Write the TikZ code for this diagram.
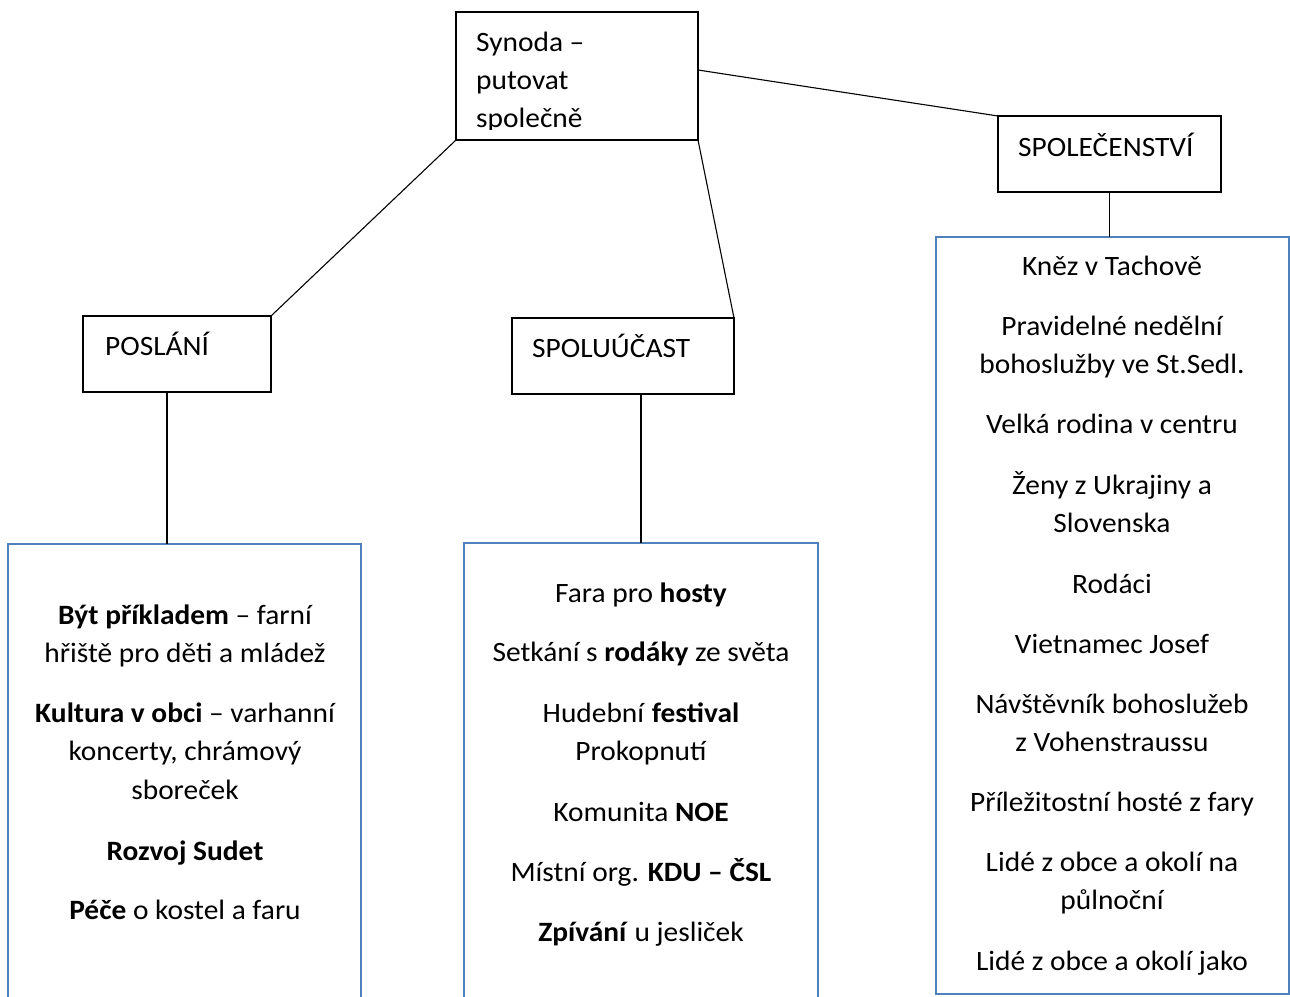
\documentclass[tikz,border=0pt]{standalone}
\usepackage{fontspec}
\setmainfont{Carlito}[FakeStretch=1.05]
\definecolor{boxblue}{RGB}{79,129,189}
\begin{document}
\begin{tikzpicture}[x=1pt,y=-1pt,
  smallbox/.style={draw=black, line width=1.2pt, rectangle, inner sep=0pt, outer sep=0pt, anchor=north west},
  bigbox/.style={draw=boxblue, line width=2pt, rectangle, inner sep=0pt, outer sep=0pt, anchor=north west},
  conn/.style={draw=black, line width=1.1pt},
  txt/.style={font=\fontsize{28}{33}\selectfont, inner sep=0pt, anchor=base},
  ltxt/.style={font=\fontsize{28}{33}\selectfont, inner sep=0pt, anchor=base west}]
\clip (0,0) rectangle (1290,996);
\fill[white] (0,0) rectangle (1290,996);

% small boxes
\node[smallbox, minimum width=242pt, minimum height=128pt] (syn) at (456,12) {};
\node[smallbox, minimum width=188pt, minimum height=76pt] (posl) at (83,316) {};
\node[smallbox, minimum width=222pt, minimum height=76pt] (spolu) at (512,318) {};
\node[smallbox, minimum width=223pt, minimum height=76pt] (spolec) at (998,116) {};

% big boxes
\node[bigbox, minimum width=353pt, minimum height=500pt] (bigL) at (8,544) {};
\node[bigbox, minimum width=354pt, minimum height=500pt] (bigM) at (464,543) {};
\node[bigbox, minimum width=353pt, minimum height=757pt] (bigR) at (936,237) {};

% small box labels
\begin{scope}
\clip (456,12) rectangle (698,129);
\node[ltxt] (s1) at (476,51) {Synoda –};
\node[ltxt] (s2) at (476,89) {putovat};
\node[ltxt] (s3) at (476,127) {společně};
\end{scope}
\node[ltxt] (tposl) at (105,355) {POSLÁNÍ};
\node[ltxt] (tspolu) at (532,357) {SPOLUÚČAST};
\node[ltxt] (tspolec) at (1018,156) {SPOLEČENSTVÍ};

% connectors
\draw[conn] (syn.south west) -- (posl.north east);
\draw[conn] (syn.south east) -- (spolu.north east);
\draw[conn] ([yshift=6pt]syn.east) -- (spolec.north west);
\coordinate (pb) at ([xshift=-10pt]posl.south);
\draw[conn] (pb) -- (pb |- bigL.north);
\draw[conn] (bigM.north |- spolu.south) -- (bigM.north);
\draw[conn] (spolec.south) -- (spolec.south |- bigR.north);

% left box text
\node[txt] (l1) at (185,624) {\textbf{Být příkladem} – farní};
\node[txt] (l2) at (185,662) {hřiště pro děti a mládež};
\node[txt] (l3) at (185,722) {\textbf{Kultura v obci} – varhanní};
\node[txt] (l4) at (185,760) {koncerty, chrámový};
\node[txt] (l5) at (185,799) {sboreček};
\node[txt] (l6) at (185,860) {\textbf{Rozvoj Sudet}};
\node[txt] (l7) at (185,919) {\textbf{Péče} o kostel a faru};

% middle box text
\node[txt] (m1) at (641,602) {Fara pro \textbf{hosty}};
\node[txt] (m2) at (641,661) {Setkání s \textbf{rodáky} ze světa};
\node[txt] (m3) at (641,722) {Hudební \textbf{festival}};
\node[txt] (m4) at (641,760) {Prokopnutí};
\node[txt] (m5) at (641,821) {Komunita \textbf{NOE}};
\node[txt] (m6) at (641,881) {Místní org. \textbf{KDU – ČSL}};
\node[txt] (m7) at (641,941) {\textbf{Zpívání} u jesliček};

% right box text
\node[txt] (r1) at (1112,275) {Kněz v Tachově};
\node[txt] (r2) at (1112,335) {Pravidelné nedělní};
\node[txt] (r3) at (1112,373) {bohoslužby ve St.Sedl.};
\node[txt] (r4) at (1112,433) {Velká rodina v centru};
\node[txt] (r5) at (1112,494) {Ženy z Ukrajiny a};
\node[txt] (r6) at (1112,532) {Slovenska};
\node[txt] (r7) at (1112,593) {Rodáci};
\node[txt] (r8) at (1112,653) {Vietnamec Josef};
\node[txt] (r9) at (1112,713) {Návštěvník bohoslužeb};
\node[txt] (r10) at (1112,751) {z Vohenstraussu};
\node[txt] (r11) at (1112,811) {Příležitostní hosté z fary};
\node[txt] (r12) at (1112,871) {Lidé z obce a okolí na};
\node[txt] (r13) at (1112,909) {půlnoční};
\node[txt] (r14) at (1112,970) {Lidé z obce a okolí jako};
\end{tikzpicture}
\end{document}
